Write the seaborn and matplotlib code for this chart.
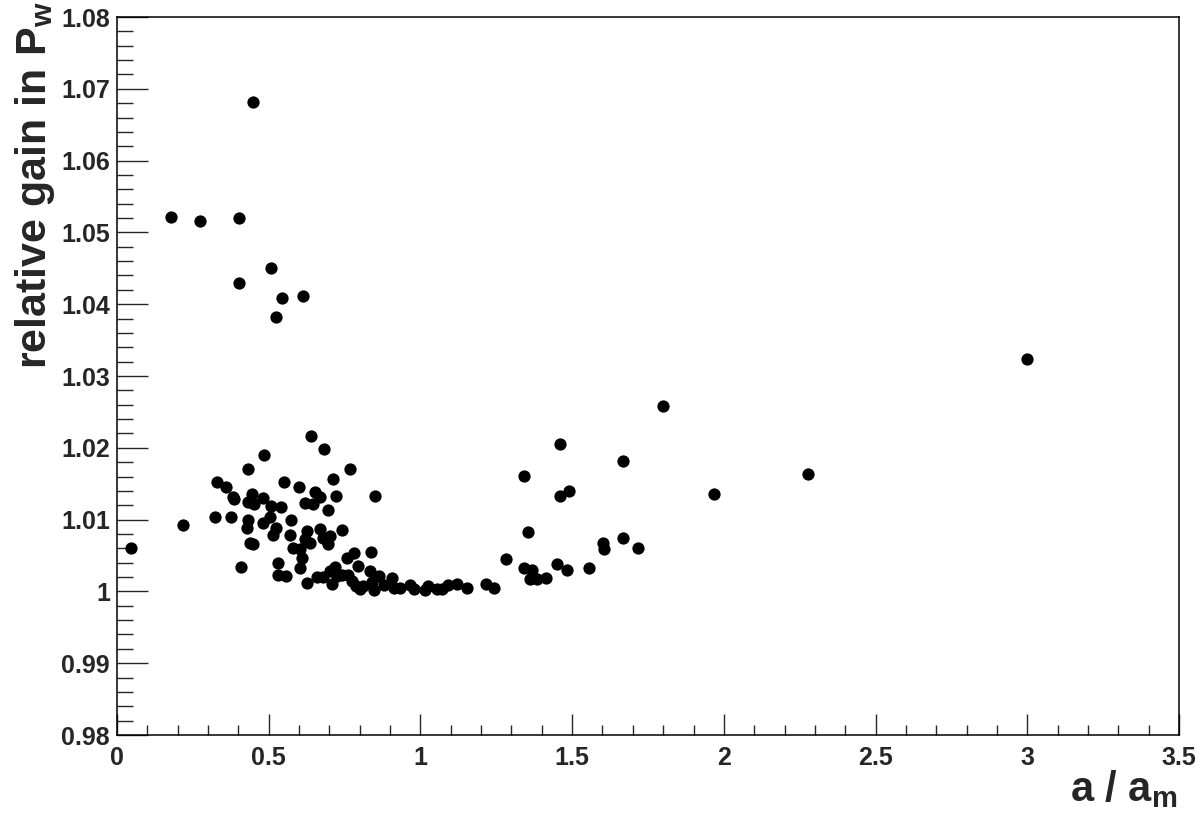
import numpy as np
import pandas as pd
import matplotlib
matplotlib.use("Agg")
import matplotlib.pyplot as plt
from matplotlib.ticker import MultipleLocator, FuncFormatter
import seaborn as sns

# ---- data ----
a_over_am = [
    0.046, 0.217, 0.179, 0.272, 0.401, 0.448, 0.508, 0.401, 0.545, 0.613, 0.524,
    0.323, 0.329, 0.360, 0.382, 0.384, 0.376, 0.408, 0.431, 0.433, 0.444, 0.452,
    0.431, 0.428, 0.438, 0.449, 0.486, 0.482, 0.481, 0.504, 0.509, 0.540, 0.524,
    0.513, 0.532, 0.532, 0.557, 0.551, 0.573, 0.570, 0.581, 0.603, 0.600, 0.603,
    0.611, 0.619, 0.647, 0.625, 0.619, 0.636, 0.625, 0.638, 0.652, 0.669, 0.658,
    0.678, 0.669, 0.680, 0.696, 0.702, 0.681, 0.697, 0.713, 0.722, 0.702, 0.718,
    0.724, 0.707, 0.741, 0.757, 0.782, 0.768, 0.795, 0.838, 0.851, 0.740, 0.762,
    0.773, 0.787, 0.800, 0.835, 0.863, 0.905, 0.841, 0.848, 0.879, 0.912, 0.932,
    0.811, 0.965, 0.978, 1.014, 1.025, 1.053, 1.070, 1.091, 1.120, 1.153, 1.216,
    1.244, 1.283, 1.340, 1.355, 1.341, 1.369, 1.360, 1.383, 1.415, 1.451, 1.483,
    1.555, 1.459, 1.461, 1.490, 1.601, 1.606, 1.669, 1.716, 1.667, 1.798, 1.968,
    2.278, 2.998,
]
gain_pw = [
    1.0061, 1.0093, 1.0521, 1.0516, 1.0520, 1.0682, 1.0450, 1.0429, 1.0409, 1.0411, 1.0382,
    1.0104, 1.0153, 1.0145, 1.0132, 1.0128, 1.0103, 1.0034, 1.0170, 1.0124, 1.0135, 1.0122,
    1.0100, 1.0088, 1.0067, 1.0066, 1.0190, 1.0130, 1.0095, 1.0103, 1.0119, 1.0117, 1.0088,
    1.0079, 1.0039, 1.0023, 1.0021, 1.0152, 1.0099, 1.0078, 1.0060, 1.0059, 1.0145, 1.0033,
    1.0046, 1.0123, 1.0122, 1.0084, 1.0073, 1.0067, 1.0012, 1.0217, 1.0139, 1.0132, 1.0020,
    1.0020, 1.0087, 1.0074, 1.0066, 1.0077, 1.0198, 1.0114, 1.0156, 1.0133, 1.0028, 1.0034,
    1.0021, 1.0011, 1.0085, 1.0046, 1.0053, 1.0171, 1.0036, 1.0055, 1.0133, 1.0023, 1.0023,
    1.0015, 1.0008, 1.0004, 1.0028, 1.0022, 1.0019, 1.0013, 1.0002, 1.0009, 1.0005, 1.0005,
    1.0008, 1.0009, 1.0004, 1.0002, 1.0007, 1.0003, 1.0004, 1.0009, 1.0011, 1.0005, 1.0011,
    1.0005, 1.0045, 1.0161, 1.0083, 1.0033, 1.0030, 1.0017, 1.0017, 1.0019, 1.0038, 1.0030,
    1.0032, 1.0205, 1.0133, 1.0140, 1.0067, 1.0059, 1.0075, 1.0060, 1.0181, 1.0258, 1.0135,
    1.0164, 1.0324,
]

x_title = r"a / $\mathrm{a_m}$"
y_title = r"relative gain in $\mathrm{P_w}$"

df = pd.DataFrame({"a": a_over_am, "gain": gain_pw})

sns.set_style("white")
plt.rcParams["font.family"] = ["Liberation Sans", "DejaVu Sans"]
plt.rcParams["font.weight"] = "bold"
plt.rcParams["mathtext.fontset"] = "custom"
plt.rcParams["mathtext.rm"] = "Liberation Sans:bold"
plt.rcParams["mathtext.it"] = "Liberation Sans:bold"
plt.rcParams["mathtext.bf"] = "Liberation Sans:bold"

fig = plt.figure(figsize=(12, 8.19), dpi=100)
ax = fig.add_axes([117 / 1200, 1 - 735 / 819, (1179 - 117) / 1200, (735 - 17) / 819])

sns.scatterplot(data=df, x="a", y="gain", ax=ax, color="black", s=78,
                linewidth=0, marker="o", legend=False, zorder=3)

ax.set_xlim(0, 3.5)
ax.set_ylim(0.98, 1.08)
ax.set_xlabel("")
ax.set_ylabel("")

ax.xaxis.set_major_locator(MultipleLocator(0.5))
ax.xaxis.set_minor_locator(MultipleLocator(0.1))
ax.yaxis.set_major_locator(MultipleLocator(0.01))
ax.yaxis.set_minor_locator(MultipleLocator(0.002))
fmt = FuncFormatter(lambda v, p: f"{round(v, 4):g}")
ax.xaxis.set_major_formatter(fmt)
ax.yaxis.set_major_formatter(fmt)

for s in ax.spines.values():
    s.set_visible(True)
    s.set_color("black")
    s.set_linewidth(1.1)

ax.tick_params(axis="x", which="major", direction="in", length=15, width=1.0,
               labelsize=18, pad=8, top=False, bottom=True)
ax.tick_params(axis="x", which="minor", direction="in", length=7.5, width=1.0,
               top=False, bottom=True)
ax.tick_params(axis="y", which="major", direction="in", length=22, width=1.0,
               labelsize=18, pad=5, right=False, left=True)
ax.tick_params(axis="y", which="minor", direction="in", length=11.5, width=1.0,
               right=False, left=True)
for lab in ax.get_xticklabels() + ax.get_yticklabels():
    lab.set_fontweight("bold")

fig.text(1178 / 1200, 1 - 801 / 819, x_title, ha="right", va="baseline",
         fontsize=30, fontweight="bold")
fig.text(13 / 1200, 1 - 1 / 819, y_title, ha="left", va="top", rotation=90,
         fontsize=31, fontweight="bold")

fig.savefig("out.png", dpi=100, facecolor="white")
